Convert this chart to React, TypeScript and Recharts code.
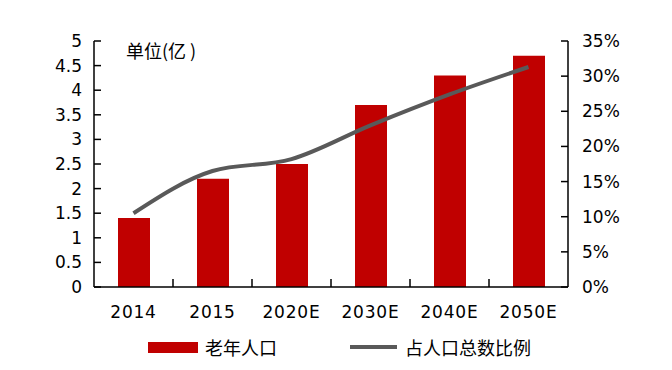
import * as React from "react";
import { ComposedChart, Bar, Line, XAxis, YAxis } from "recharts";

const years = ["2014", "2015", "2020E", "2030E", "2040E", "2050E"];
const elderly = [1.4, 2.2, 2.5, 3.7, 4.3, 4.7];
const share = [10.5, 16.5, 18.2, 23.0, 27.4, 31.3];
const leftTicks = [0, 0.5, 1, 1.5, 2, 2.5, 3, 3.5, 4, 4.5, 5];
const rightTicks = [0, 5, 10, 15, 20, 25, 30, 35];

const rows = years.map((year, i) => ({ year, elderly: elderly[i], share: share[i] }));

const FONT = "'DejaVu Sans', 'Noto Sans CJK SC', sans-serif";
const CJK = "'Noto Sans CJK SC', sans-serif";

// category label plus an inward tick mark on the boundary to its left
function YearTick(props: any) {
  const { x, y, payload, index } = props;
  const half = 39.5;
  return (
    <g>
      {index > 0 && (
        <line x1={x - half} x2={x - half} y1={y} y2={y - 8} stroke="#000" strokeWidth={1.5} />
      )}
      <text
        x={x}
        y={y + 19}
        dy="0.71em"
        textAnchor="middle"
        fontSize={17}
        letterSpacing={0.8}
        fontFamily={FONT}
        fill="#000"
      >
        {payload.value}
      </text>
    </g>
  );
}

export default function App() {
  return (
    <div style={{ position: "absolute", left: 0, top: 0, width: 672, height: 370, background: "#fff" }}>
      <ComposedChart
        width={672}
        height={370}
        data={rows}
        margin={{ top: 41, right: 0, bottom: 53, left: 0 }}
        barCategoryGap={0}
      >
        <XAxis
          dataKey="year"
          height={30}
          axisLine={{ stroke: "#000", strokeWidth: 1.5 }}
          tickLine={false}
          tickSize={0}
          tickMargin={0}
          tick={<YearTick />}
          interval={0}
          padding={{ left: 0, right: 0 }}
        />
        <YAxis
          yAxisId="left"
          orientation="left"
          width={94}
          domain={[0, 5]}
          ticks={leftTicks}
          interval={0}
          axisLine={{ stroke: "#000", strokeWidth: 1.5 }}
          tickLine={{ stroke: "#000", strokeWidth: 1.5 }}
          tickSize={-7}
          tickMargin={19}
          tick={{ fontSize: 17, fontFamily: FONT, fill: "#000" }}
        />
        <YAxis
          yAxisId="right"
          orientation="right"
          width={104}
          domain={[0, 35]}
          ticks={rightTicks}
          interval={0}
          tickFormatter={(v: number) => `${v}%`}
          axisLine={{ stroke: "#000", strokeWidth: 1.5 }}
          tickLine={{ stroke: "#000", strokeWidth: 1.5 }}
          tickSize={-7}
          tickMargin={21}
          tick={{ fontSize: 17, fontFamily: FONT, fill: "#000", textAnchor: "start" }}
        />
        <Bar yAxisId="left" dataKey="elderly" fill="#C00000" barSize={32} isAnimationActive={false} />
        <Line
          yAxisId="right"
          dataKey="share"
          type="monotone"
          stroke="#595959"
          strokeWidth={4}
          dot={false}
          activeDot={false}
          isAnimationActive={false}
        />
      </ComposedChart>
      <div
        style={{ position: "absolute", left: 126, top: 38, fontSize: 18, fontFamily: CJK, color: "#000", lineHeight: "24px" }}
      >
        单位(亿 )
      </div>
      <div
        style={{ position: "absolute", left: 148, top: 335, height: 24, display: "flex", alignItems: "center", fontFamily: CJK, fontSize: 18, color: "#000" }}
      >
        <span style={{ display: "inline-block", width: 50, height: 11, background: "#C00000", marginRight: 7 }} />
        <span>老年人口</span>
        <span style={{ display: "inline-block", width: 47, height: 4, background: "#595959", marginLeft: 73, marginRight: 8 }} />
        <span>占人口总数比例</span>
      </div>
    </div>
  );
}
